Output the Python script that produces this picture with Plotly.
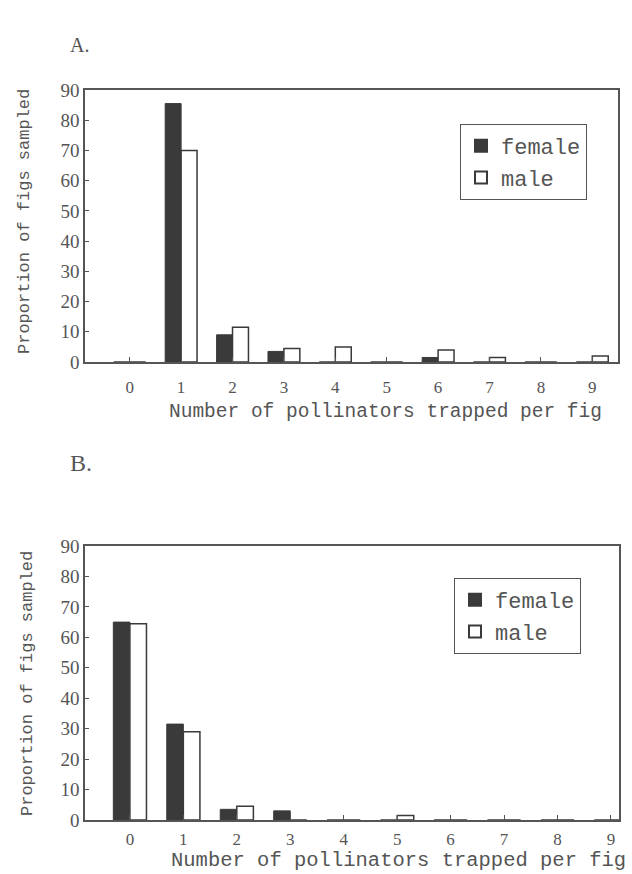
import plotly.graph_objects as go

categories = [0, 1, 2, 3, 4, 5, 6, 7, 8, 9]
tick_labels = ["0", "1", "2", "3", "4", "5", "6", "7", "8", "9"]
a_female = [0, 85.5, 9, 3.5, 0, 0, 1.5, 0, 0, 0]
a_male = [0, 70, 11.5, 4.5, 5, 0, 4, 1.5, 0, 2]
b_female = [65, 31.5, 3.5, 3, 0, 0, 0, 0, 0, 0]
b_male = [64.5, 29, 4.5, 0, 0, 1.5, 0, 0, 0, 0]
y_ticks = [0, 10, 20, 30, 40, 50, 60, 70, 80, 90]

W, H = 632, 874
GREY = "#555555"
DARK = "#3a3a3a"
SERIF = "Liberation Serif"
MONO = "Liberation Mono"

def px(x):
    return x / W

def py(y):
    return 1 - y / H

fig = go.Figure()
fig.add_trace(go.Bar(x=categories, y=a_female, name="female", marker=dict(color=DARK, line=dict(color=DARK, width=1)),
                     xaxis="x", yaxis="y", legend="legend"))
fig.add_trace(go.Bar(x=categories, y=a_male, name="male", marker=dict(color="white", line=dict(color=DARK, width=1.5)),
                     xaxis="x", yaxis="y", legend="legend"))
fig.add_trace(go.Bar(x=categories, y=b_female, name="female", marker=dict(color=DARK, line=dict(color=DARK, width=1)),
                     xaxis="x2", yaxis="y2", legend="legend2"))
fig.add_trace(go.Bar(x=categories, y=b_male, name="male", marker=dict(color="white", line=dict(color=DARK, width=1.5)),
                     xaxis="x2", yaxis="y2", legend="legend2"))

xcommon = dict(tickmode="array", tickvals=categories, ticktext=tick_labels, ticks="inside", ticklen=5,
               tickcolor=GREY, showline=True, linecolor=GREY, linewidth=1.5, mirror=True, showgrid=False,
               zeroline=False, tickfont=dict(family=SERIF, size=17, color=GREY), fixedrange=True,
               automargin=False)
ycommon = dict(range=[0, 90], tickmode="array", tickvals=y_ticks, ticks="inside", ticklen=4, tickcolor=GREY,
               showline=True, linecolor=GREY, linewidth=1.5, mirror=True, showgrid=False, zeroline=False,
               tickfont=dict(family=SERIF, size=19, color=GREY), fixedrange=True, automargin=False)

legcommon = dict(bordercolor=GREY, borderwidth=1, bgcolor="white", font=dict(family=MONO, size=22, color=GREY),
                 xanchor="left", yanchor="top", itemsizing="constant")

fig.update_layout(
    width=W, height=H, margin=dict(l=0, r=0, t=0, b=0, autoexpand=False),
    paper_bgcolor="white", plot_bgcolor="white",
    barmode="group", bargap=0.38, bargroupgap=0.0,
    showlegend=True,
    xaxis=dict(domain=[px(85), px(618)], range=[-0.87, 9.5], anchor="y", ticklabelstandoff=9, **xcommon),
    yaxis=dict(domain=[py(362), py(90)], anchor="x", **ycommon),
    xaxis2=dict(domain=[px(85), px(619)], range=[-0.84, 9.15], anchor="y2", ticklabelstandoff=3, **xcommon),
    yaxis2=dict(domain=[py(820), py(546)], anchor="x2", **ycommon),
    legend=dict(x=px(460), y=py(124), **legcommon),
    legend2=dict(x=px(454), y=py(578), **legcommon),
    annotations=[
        dict(text="A.", x=px(68), y=py(45), xref="paper", yref="paper", xanchor="left", yanchor="middle",
             showarrow=False, font=dict(family=SERIF, size=20, color=GREY)),
        dict(text="B.", x=px(68), y=py(463), xref="paper", yref="paper", xanchor="left", yanchor="middle",
             showarrow=False, font=dict(family=SERIF, size=24, color=GREY)),
        dict(text="Number of pollinators trapped per fig", x=px(604), y=py(412), xref="paper", yref="paper",
             xanchor="right", yanchor="middle", showarrow=False, font=dict(family=MONO, size=19.5, color=GREY)),
        dict(text="Number of pollinators trapped per fig", x=px(628), y=py(860), xref="paper", yref="paper",
             xanchor="right", yanchor="middle", showarrow=False, font=dict(family=MONO, size=20.5, color=GREY)),
        dict(text="Proportion of figs sampled", x=px(25), y=py(222), xref="paper", yref="paper",
             xanchor="center", yanchor="middle", textangle=-90, showarrow=False,
             font=dict(family=MONO, size=17, color=GREY)),
        dict(text="Proportion of figs sampled", x=px(27), y=py(684), xref="paper", yref="paper",
             xanchor="center", yanchor="middle", textangle=-90, showarrow=False,
             font=dict(family=MONO, size=17, color=GREY)),
    ],
)

fig.write_html("out.html", config={"displayModeBar": False},
               post_script="document.body.style.margin='0';document.body.style.overflow='hidden';")
